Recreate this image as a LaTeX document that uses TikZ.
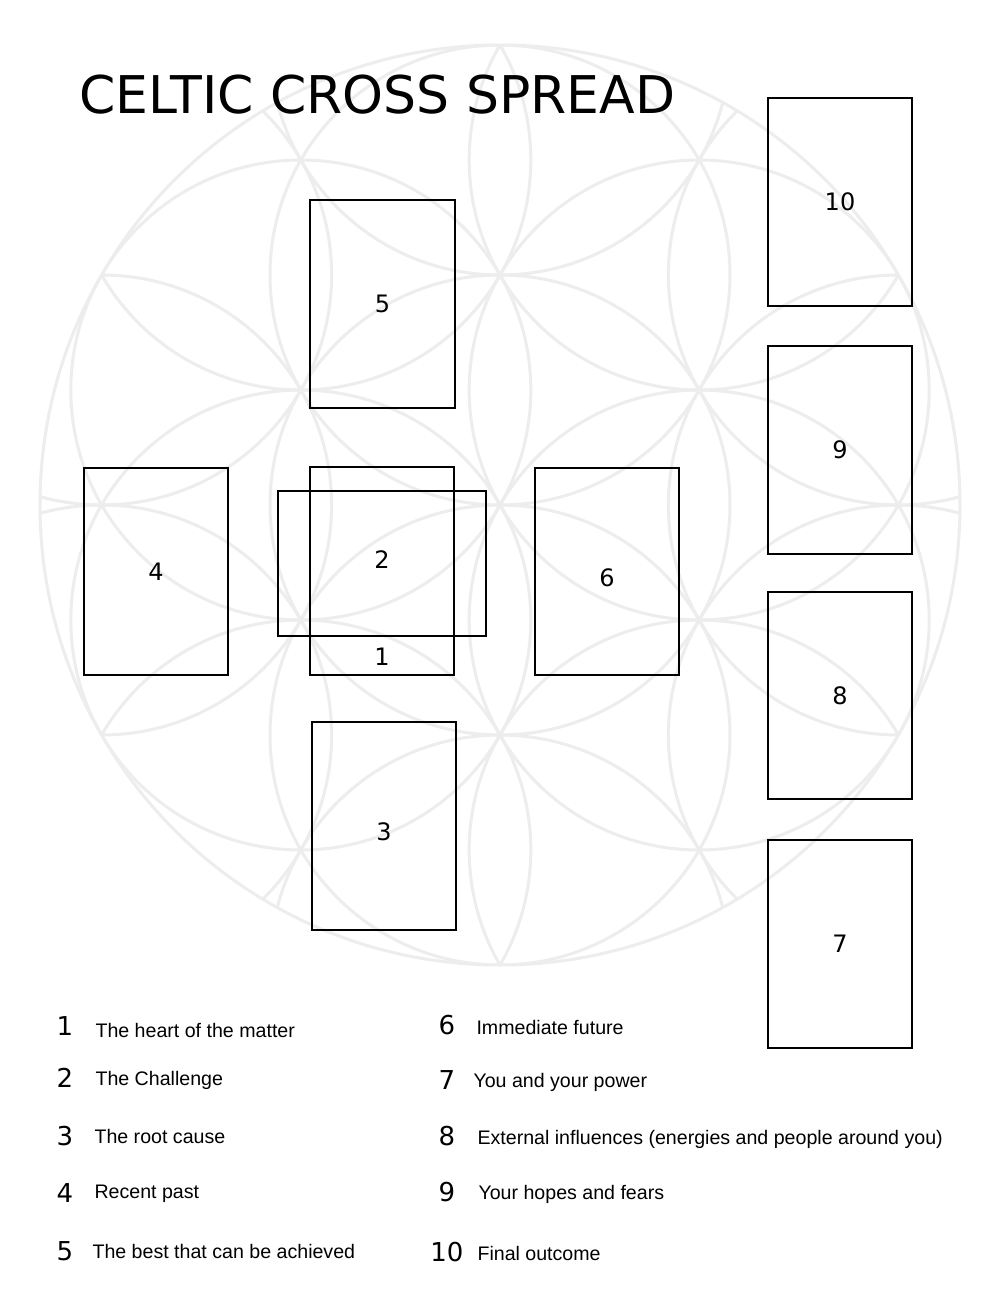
\documentclass[tikz,border=0pt]{standalone}
\usepackage{fontspec}
\setmainfont{Liberation Sans}
\newfontfamily\titlefont{DejaVu Sans}
\begin{document}
\begin{tikzpicture}[x=1pt,y=-1pt,
  card/.style={draw=black,line width=2pt},
  num/.style={font=\fontsize{24}{24}\selectfont\titlefont},
  lnum/.style={font=\fontsize{26}{26}\selectfont\titlefont,anchor=center},
  ltxt/.style={font=\fontsize{19.6}{19.6}\selectfont,anchor=west},
  flower/.style={draw=black!7,line width=3pt}]
\useasboundingbox (0,0) rectangle (1000,1294);
\fill[white] (0,0) rectangle (1000,1294);
\def\r{230}
\begin{scope}
\clip (500,505) circle (460);
\draw[flower] (500,505) circle (\r);
\foreach \i in {0,...,5}{
  \draw[flower] (500,505) ++(\i*60+90:\r) circle (\r);
  \draw[flower] (500,505) ++(\i*60:1.732*\r) circle (\r);
  \draw[flower] (500,505) ++(\i*60+90:2*\r) circle (\r);
}
\end{scope}
\draw[flower] (500,505) circle (460);
\node[anchor=west,font=\fontsize{52}{52}\selectfont\titlefont] (title) at (76,95) {CELTIC CROSS SPREAD};
\draw[card] (310,200) rectangle (455,408) node[midway,num] (c5) {5};
\draw[card] (84,468) rectangle (228,675) node[midway,num] (c4) {4};
\draw[card] (310,467) rectangle (454,675);
\node[num] (c1) at (382,657) {1};
\draw[card] (278,491) rectangle (486,636) node[midway,num,yshift=4pt] (c2) {2};
\draw[card] (535,468) rectangle (679,675) node[midway,num,yshift=-6pt] (c6) {6};
\draw[card] (312,722) rectangle (456,930) node[midway,num,yshift=-6pt] (c3) {3};
\draw[card] (768,98) rectangle (912,306) node[midway,num] (c10) {10};
\draw[card] (768,346) rectangle (912,554) node[midway,num] (c9) {9};
\draw[card] (768,592) rectangle (912,799) node[midway,num] (c8) {8};
\draw[card] (768,840) rectangle (912,1048) node[midway,num] (c7) {7};
\node[lnum] (l1) at (65,1026) {1}; \node[ltxt] (t1) at (92,1030) {The heart of the matter};
\node[lnum] (l2) at (65,1078) {2}; \node[ltxt] (t2) at (92,1080) {The Challenge};
\node[lnum] (l3) at (65,1136) {3}; \node[ltxt] (t3) at (91,1136) {The root cause};
\node[lnum] (l4) at (65,1193) {4}; \node[ltxt] (t4) at (91,1194) {Recent past};
\node[lnum] (l5) at (65,1251) {5}; \node[ltxt] (t5) at (89,1251) {The best that can be achieved};
\node[lnum] (l6) at (447,1025) {6}; \node[ltxt] (t6) at (473,1027) {Immediate future};
\node[lnum] (l7) at (447,1080) {7}; \node[ltxt] (t7) at (470,1082) {You and your power};
\node[lnum] (l8) at (447,1136) {8}; \node[ltxt] (t8) at (474,1139) {External influences (energies and people around you)};
\node[lnum] (l9) at (447,1192) {9}; \node[ltxt] (t9) at (475,1194) {Your hopes and fears};
\node[lnum] (l10) at (447,1252) {10}; \node[ltxt] (t10) at (474,1253) {Final outcome};
\end{tikzpicture}
\end{document}
